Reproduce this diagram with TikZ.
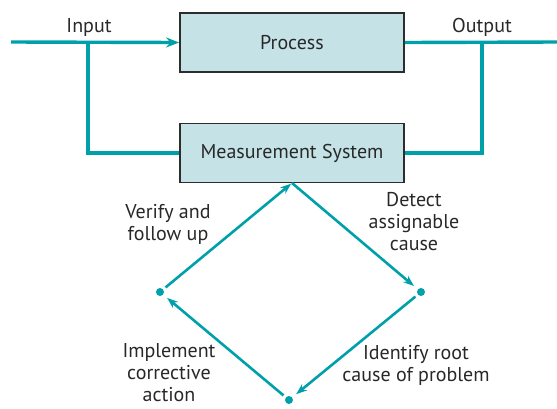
\documentclass[tikz,border=0pt]{standalone}
\usepackage{fontspec}
\setmainfont{PT Sans}
\usetikzlibrary{arrows.meta}
\definecolor{teal1}{RGB}{0,160,170}
\definecolor{boxfill}{RGB}{197,227,230}
\definecolor{boxedge}{RGB}{45,45,45}
\definecolor{ink}{RGB}{40,40,40}
\tikzset{
  flow/.style={draw=teal1, line width=3.4pt},
  cyc/.style={draw=teal1, line width=2.6pt, -{Stealth[length=11pt,width=8pt]}, shorten >=5pt, shorten <=3pt},
  blockbox/.style={draw=boxedge, fill=boxfill, line width=1.8pt, minimum width=224pt, minimum height=59pt, inner sep=0pt, font=\fontsize{20}{22}\selectfont, text=ink},
  lbl/.style={font=\fontsize{20}{22}\selectfont, text=ink, align=center, inner sep=0pt},
  corner/.style={circle, fill=teal1, inner sep=0pt, minimum size=8pt}
}
\begin{document}
\begin{tikzpicture}[x=1pt,y=-1pt]
\useasboundingbox (0,0) rectangle (557,408);
% blocks
\node[blockbox] (proc) at (292,42.5) {Process};
\node[blockbox] (meas) at (292,153) {Measurement System};
% input / output lines with taps to the measurement system
\coordinate (inL) at (11,42);
\coordinate (inTap) at (88,42);
\coordinate (outTap) at (482,42);
\coordinate (outR) at (557,42);
\draw[flow] (inTap) |- (meas.west);
\draw[flow] (outTap) |- (meas.east);
\draw[flow, -{Stealth[length=13pt,width=10pt]}] (inL) -- (proc.west);
\draw[flow] (proc.east) -- (outR);
\node[lbl] (inlab) at (89,27) {Input};
\node[lbl] (outlab) at (482,27) {Output};
% improvement cycle
\coordinate (top) at (292,183);
\node[corner] (right) at (421,292) {};
\node[corner] (bottom) at (289,400) {};
\node[corner] (left) at (160,292) {};
\draw[cyc, shorten <=0pt] (top) -- (right);
\draw[cyc] (right) -- (bottom);
\draw[cyc] (bottom) -- (left);
\draw[cyc, shorten >=1pt] (left) -- (top);
% step labels
\node[lbl] (verify) at (168,224) {Verify and\\follow up};
\node[lbl] (detect) at (414,222) {Detect\\assignable\\cause};
\node[lbl] (identify) at (416,365) {Identify root\\cause of problem};
\node[lbl] (implement) at (169,373) {Implement\\corrective\\action};
\end{tikzpicture}
\end{document}
